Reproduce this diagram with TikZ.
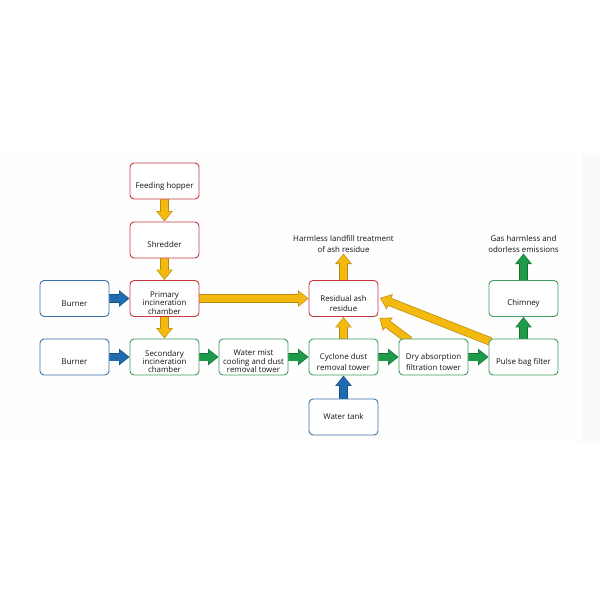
\documentclass[tikz,border=0pt]{standalone}
\usepackage{fontspec}
\setmainfont{Open Sans}
\usetikzlibrary{arrows.meta,calc}
\pgfdeclarelayer{bgzero}
\pgfdeclarelayer{arrowlayer}
\pgfsetlayers{bgzero,arrowlayer,main}
\definecolor{boxred}{HTML}{C6393F}
\definecolor{boxblue}{HTML}{3C73A8}
\definecolor{boxgreen}{HTML}{3F9B5E}
\definecolor{ayel}{HTML}{F4B90E}
\definecolor{ayelD}{HTML}{B88A0B}
\definecolor{ablue}{HTML}{1F6DB0}
\definecolor{ablueD}{HTML}{17507F}
\definecolor{agreen}{HTML}{1E9B48}
\definecolor{agreenD}{HTML}{166E35}
\definecolor{txt}{HTML}{141414}
\tikzset{
  box/.style={draw, rounded corners=4pt, minimum width=69pt, minimum height=36pt,
    inner sep=0pt, fill=white, line width=0.9pt},
  rbox/.style={box, draw=boxred},
  bbox/.style={box, draw=boxblue},
  gbox/.style={box, draw=boxgreen},
  labbase/.style={text=txt, align=center, inner sep=0pt},
  lab/.style={labbase, font=\fontsize{7.9}{10.5}\selectfont, yshift=-5pt},
  labthree/.style={labbase, font=\fontsize{7.9}{8.4}\selectfont, yshift=-4.5pt},
  labtank/.style={labbase, font=\fontsize{7.9}{10.5}\selectfont},
  outtext/.style={font=\fontsize{7.9}{11}\selectfont, text=txt, align=center, inner sep=1pt, anchor=south},
  barrow/.style 2 args={line width=8.4pt, draw=#2, -{Triangle[width=16pt,length=10.5pt]},
    postaction={draw=#1, line width=7pt, -{Triangle[width=13.6pt,length=8.8pt]}, shorten >=1.1pt}},
  yarrow/.style={barrow={ayel}{ayelD}},
  barr/.style={barrow={ablue}{ablueD}},
  garrow/.style={barrow={agreen}{agreenD}},
}
\begin{document}
\begin{tikzpicture}[x=1pt,y=-1pt]
\useasboundingbox (0,0) rectangle (600,600);
\begin{pgfonlayer}{bgzero}
  \fill[white] (0,0) rectangle (600,600);
  \fill[black!0.5] (0,153) rectangle (600,443);
  \fill[black!2] (582,153) rectangle (600,443);
\end{pgfonlayer}

% boxes
\node[rbox, label={[lab]center:Feeding hopper}] (hop) at (164.5,181) {};
\node[rbox, label={[lab]center:Shredder}] (shr) at (164.5,240) {};
\node[rbox, label={[labthree]center:Primary\\incineration\\chamber}] (pri) at (164.5,298.5) {};
\node[gbox, label={[labthree]center:Secondary\\incineration\\chamber}] (sec) at (164.5,357) {};
\node[bbox, label={[lab]center:Burner}] (bur1) at (74.5,298.5) {};
\node[bbox, label={[lab]center:Burner}] (bur2) at (74.5,357) {};
\node[gbox, label={[labthree]center:Water mist\\cooling and dust\\removal tower}] (mist) at (253.5,357) {};
\node[gbox, label={[lab]center:Cyclone dust\\removal tower}] (cyc) at (343.5,357) {};
\node[gbox, label={[lab]center:Dry absorption\\filtration tower}] (dry) at (433.5,357) {};
\node[gbox, label={[lab]center:Pulse bag filter}] (pulse) at (523.5,357) {};
\node[gbox, label={[lab]center:Chimney}] (chim) at (523.5,298.5) {};
\node[rbox, label={[lab]center:Residual ash\\residue}] (ash) at (343.5,298.5) {};
\node[bbox, label={[labtank]center:Water tank}] (tank) at (343.5,417) {};

% output texts
\node[outtext] (land) at (343.5,253.5) {Harmless landfill treatment\\of ash residue};
\node[outtext] (gas) at (523.5,253.5) {Gas harmless and\\odorless emissions};

% arrows
\begin{pgfonlayer}{arrowlayer}
  \draw[yarrow] (hop) -- (shr);
  \draw[yarrow] (shr) -- (pri);
  \draw[yarrow] (pri) -- (sec);
  \draw[yarrow] (pri) -- (ash);
  \draw[yarrow] (cyc) -- (ash);
  \draw[yarrow] ($(dry.north west)+(11,2)$) -- ($(ash.south east)+(1,1)$);
  \draw[yarrow] ($(pulse.north west)+(2,3)$) -- ($(ash.east)+(1.5,-0.5)$);
  \draw[yarrow] (ash) -- (land);
  \draw[barr] (bur1) -- (pri);
  \draw[barr] (bur2) -- (sec);
  \draw[barr] (tank) -- (cyc);
  \draw[garrow] (sec) -- (mist);
  \draw[garrow] (mist) -- (cyc);
  \draw[garrow] (cyc) -- (dry);
  \draw[garrow] (dry) -- (pulse);
  \draw[garrow] (pulse) -- (chim);
  \draw[garrow] (chim) -- (gas);
\end{pgfonlayer}
\end{tikzpicture}
\end{document}
